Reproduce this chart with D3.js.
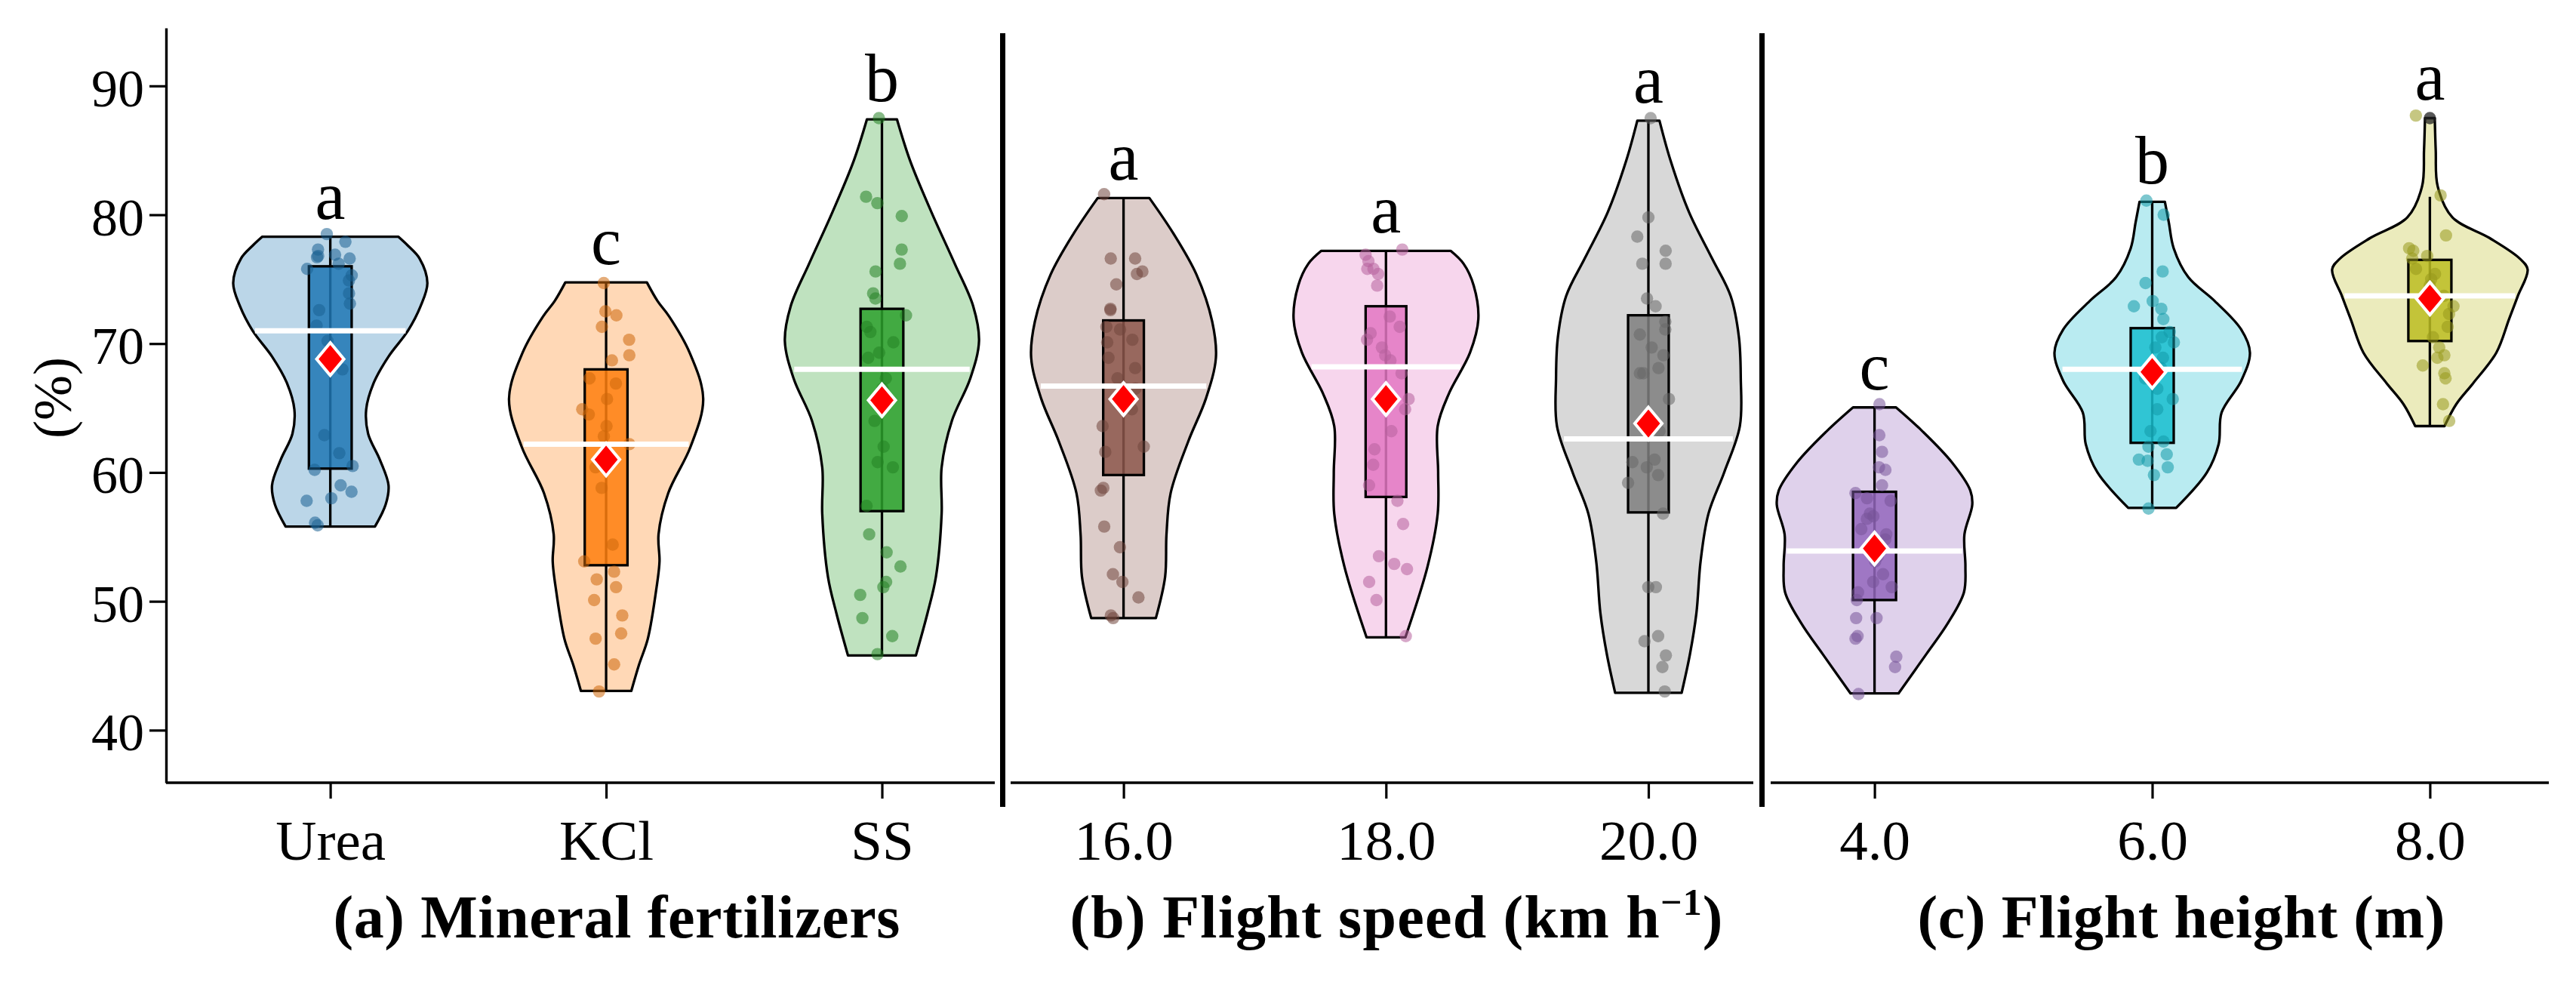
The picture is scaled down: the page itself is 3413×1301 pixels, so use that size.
<!DOCTYPE html>
<html><head><meta charset="utf-8">
<script src="https://cdn.jsdelivr.net/npm/d3@7"></script>
<style>body{margin:0;background:#fff}svg{display:block}</style>
</head><body><svg id="chart" width="3413" height="1301"></svg>
<script>
// ---------------- data ----------------
const categoriesA = ["Urea", "KCl", "SS"];
const categoriesB = ["16.0", "18.0", "20.0"];
const categoriesC = ["4.0", "6.0", "8.0"];
const yTicks = [40, 50, 60, 70, 80, 90];
const yLabel = "(%)";
// title pieces: odd index = superscript
const titleA = ["(a) Mineral fertilizers"];
const titleB = ["(b) Flight speed (km h", "\u22121", ")"];
const titleC = ["(c) Flight height (m)"];

const letters = ["a", "c", "b", "a", "a", "a", "c", "b", "a"];
const colors = ["#1f77b4", "#ff7f0e", "#2ca02c", "#8c564b", "#e377c2", "#7f7f7f", "#9467bd", "#17becf", "#bcbd22"];

const means   = [68.8, 61.0, 65.6, 65.7, 65.7, 63.8, 54.1, 67.8, 73.5];
const medians = [71.0, 62.2, 68.0, 66.7, 68.2, 62.6, 53.9, 68.0, 73.7];
const q1      = [60.3, 52.8, 57.0, 59.8, 58.1, 56.9, 50.1, 62.3, 70.2];
const q3      = [76.0, 68.0, 72.7, 71.8, 72.9, 72.2, 58.5, 71.2, 76.5];
const whiskerLow  = [55.8, 43.05, 45.8, 48.7, 47.2, 42.9, 42.85, 57.25, 63.6];
const whiskerHigh = [78.3, 74.75, 87.4, 81.3, 77.2, 87.3, 65.05, 81.0, 81.4];
const outliers = [[], [], [], [], [], [], [], [], [87.5]];

// violin density profiles: [value, relative density]
const densUrea = [[78.3,0.70],[77.6,0.80],[76.6,0.92],[74.7,1.0],[72.9,0.93],[71.0,0.80],[69.0,0.60],[67.0,0.45],[64.9,0.37],[63.0,0.39],[61.0,0.51],[59.0,0.60],[57.5,0.57],[55.8,0.46]];
const densKCl  = [[74.75,0.42],[73.3,0.53],[72.1,0.65],[69.3,0.86],[65.7,1.0],[62.0,0.87],[58.4,0.64],[55.2,0.54],[53.1,0.55],[51.1,0.52],[47.1,0.43],[45.1,0.34],[43.05,0.26]];
const densSS   = [[87.4,0.155],[84.2,0.29],[80.2,0.51],[76.2,0.75],[72.9,0.94],[70.2,1.0],[67.3,0.91],[64.0,0.72],[60.4,0.615],[56.8,0.615],[51.9,0.556],[49.1,0.47],[45.8,0.35]];
const dens16   = [[81.3,0.28],[78.6,0.535],[75.35,0.79],[71.7,0.96],[68.9,1.0],[65.7,0.89],[62.4,0.70],[58.4,0.51],[55.2,0.465],[51.9,0.45],[48.7,0.35]];
const dens18   = [[77.2,0.70],[76.2,0.84],[74.5,0.95],[71.9,1.0],[69.3,0.91],[66.1,0.68],[63.6,0.56],[60.0,0.565],[56.8,0.56],[52.7,0.45],[47.2,0.21]];
const dens20   = [[87.3,0.12],[84.2,0.24],[80.2,0.44],[76.6,0.69],[73.7,0.89],[70.5,0.98],[67.3,1.0],[63.6,0.99],[60.0,0.82],[56.8,0.65],[53.1,0.565],[49.1,0.52],[45.9,0.45],[42.9,0.36]];
const dens4    = [[65.05,0.22],[63.2,0.49],[60.8,0.79],[58.6,0.98],[57.5,1.0],[55.2,0.92],[52.7,0.93],[50.7,0.915],[48.3,0.75],[45.9,0.53],[42.85,0.245]];
const dens6    = [[81.0,0.13],[79.4,0.17],[77.4,0.22],[75.15,0.37],[73.3,0.64],[71.1,0.91],[69.3,1.0],[67.1,0.91],[64.65,0.71],[62.2,0.68],[60.0,0.56],[57.25,0.245]];
const dens8    = [[87.5,0.05],[85.0,0.06],[82.2,0.08],[79.8,0.23],[78.2,0.61],[76.6,0.92],[75.75,1.0],[73.7,0.90],[71.9,0.81],[69.3,0.68],[66.9,0.44],[65.3,0.27],[63.6,0.15]];

// individual observations
const ptsUrea = [78.5,77.9,77.3,76.9,76.8,76.7,76.6,76.2,75.8,75.3,74.9,73.9,73.1,72.6,71.4,70.2,69.2,68.0,62.9,61.5,60.5,60.2,59.0,58.5,58.0,57.8,56.1,55.9];
const ptsKCl  = [74.7,72.5,72.2,71.3,70.3,69.1,68.7,67.3,66.9,65.7,64.9,64.5,63.6,62.8,62.2,60.4,58.8,54.4,53.1,52.3,51.7,51.1,50.1,48.9,47.5,47.1,45.1,43.0];
const ptsSS   = [87.5,81.4,80.9,79.9,77.3,76.2,75.6,73.9,73.5,72.2,71.3,70.9,70.1,69.3,68.9,67.3,66.5,64.0,62.0,60.8,60.4,57.4,55.2,53.8,52.7,51.5,51.1,50.5,48.7,47.3,45.9];
const pts16   = [81.6,76.6,76.6,75.6,75.4,74.6,72.7,72.6,71.3,71.1,70.3,70.1,68.9,68.1,67.3,66.5,64.9,63.6,62.0,61.6,58.8,58.6,55.8,54.2,52.1,51.5,50.3,48.9,48.7];
const pts18   = [77.3,76.9,76.4,75.8,75.8,75.4,74.5,72.1,71.3,70.8,70.3,69.7,69.1,68.7,67.7,65.7,64.9,63.2,61.8,60.6,59.0,57.8,56.0,53.5,52.9,52.5,51.5,50.1,47.3];
const pts20   = [87.5,79.8,78.3,77.2,76.2,76.2,73.5,72.9,71.7,71.1,70.7,69.7,69.1,68.1,67.7,67.7,65.7,63.2,61.0,60.8,60.4,59.8,59.2,56.8,51.1,51.1,47.3,46.9,45.8,44.9,43.0];
const pts4    = [65.3,62.9,61.6,60.4,60.2,59.0,58.4,58.0,57.8,56.8,56.6,56.4,55.6,55.2,54.8,53.5,53.1,52.1,51.5,51.1,50.7,50.1,48.7,48.7,47.3,47.1,45.7,44.9,42.8];
const pts6    = [81.1,80.0,75.6,74.7,73.3,72.9,72.7,71.9,70.9,70.5,70.1,69.7,68.9,68.1,67.3,66.5,65.7,64.9,63.2,62.4,62.0,61.4,61.0,60.9,60.4,59.8,57.2];
const pts8    = [87.7,81.5,78.4,77.4,77.2,76.8,76.6,75.8,75.4,75.0,74.5,73.7,72.9,72.3,71.3,70.5,69.7,69.1,68.9,68.3,67.7,67.3,65.3,64.0];

const densities = [densUrea, densKCl, densSS, dens16, dens18, dens20, dens4, dens6, dens8];
const points = [ptsUrea, ptsKCl, ptsSS, pts16, pts18, pts20, pts4, pts6, pts8];

// ---------------- layout ----------------
const FONT = "'Liberation Serif', 'Times New Roman', serif";
const svg = d3.select("#chart");
const y = d3.scaleLinear().domain([35.92, 94.5]).range([1037, 37]);

const panels = [
  {cats: categoriesA, axis: [220, 1318], range: [437.6, 1168.5], title: titleA, titleX: 817, titleLen: 751},
  {cats: categoriesB, axis: [1339, 2323], range: [1488.6, 2184], title: titleB, titleX: 1850, titleLen: 865},
  {cats: categoriesC, axis: [2346, 3377], range: [2483.6, 3219.4], title: titleC, titleX: 2890, titleLen: 699}
];

const rng = d3.randomLcg(0.4217);
const jitter = d3.randomUniform.source(rng)(-1, 1);

// tall diamond marker (mean)
const symbolTallDiamond = {
  draw(ctx, size) {
    const w = Math.sqrt(size / 2.4), h = w * 1.2;
    ctx.moveTo(0, -h); ctx.lineTo(w, 0); ctx.lineTo(0, h); ctx.lineTo(-w, 0); ctx.closePath();
  }
};

function widthAt(dens, v) {
  for (let i = 0; i < dens.length - 1; i++) {
    const a = dens[i], b = dens[i + 1];
    if (v <= a[0] && v >= b[0]) {
      const t = (a[0] - v) / (a[0] - b[0]);
      return a[1] + t * (b[1] - a[1]);
    }
  }
  return dens[dens.length - 1][1];
}

panels.forEach((p, pi) => {
  const x = d3.scalePoint().domain(p.cats).range(p.range);
  const step = x.step();
  const hw = 0.352 * step;
  const bw = 0.155 * step;
  const g = svg.append("g");

  p.cats.forEach((cat, j) => {
    const k = pi * 3 + j;
    const cx = x(cat);
    const col = colors[k];
    const dens = densities[k];

    const area = d3.area()
      .curve(d3.curveCatmullRom.alpha(0.5))
      .y(d => y(d[0]))
      .x0(d => cx - d[1] * hw)
      .x1(d => cx + d[1] * hw);
    g.append("path").attr("d", area(dens))
      .attr("fill", col).attr("fill-opacity", 0.3)
      .attr("stroke", "#000").attr("stroke-width", 3.3).attr("stroke-linejoin", "round");

    g.append("line")
      .attr("x1", cx).attr("x2", cx)
      .attr("y1", y(whiskerLow[k])).attr("y2", y(whiskerHigh[k]))
      .attr("stroke", "#000").attr("stroke-width", 3.3);

    g.append("rect")
      .attr("x", cx - bw / 2).attr("width", bw)
      .attr("y", y(q3[k])).attr("height", y(q1[k]) - y(q3[k]))
      .attr("fill", col).attr("fill-opacity", 0.85)
      .attr("stroke", "#000").attr("stroke-width", 3.3);

    g.selectAll(null).data(points[k]).enter().append("circle")
      .attr("cx", () => cx + jitter() * 0.088 * step)
      .attr("cy", d => y(d))
      .attr("r", 8.2)
      .attr("fill", d3.color(col).darker(0.6)).attr("fill-opacity", 0.55);

    g.selectAll(null).data(outliers[k]).enter().append("circle")
      .attr("cx", cx).attr("cy", d => y(d)).attr("r", 8.2)
      .attr("fill", "#222").attr("fill-opacity", 0.75);

    const mw = widthAt(dens, medians[k]) * hw * 0.97;
    g.append("line")
      .attr("x1", cx - mw).attr("x2", cx + mw)
      .attr("y1", y(medians[k])).attr("y2", y(medians[k]))
      .attr("stroke", "#fff").attr("stroke-width", 7);

    g.append("path")
      .attr("d", d3.symbol(symbolTallDiamond, 780)())
      .attr("transform", `translate(${cx},${y(means[k])})`)
      .attr("fill", "#ff0000").attr("stroke", "#fff").attr("stroke-width", 4)
      .attr("stroke-linejoin", "miter");

    g.append("text")
      .attr("x", cx).attr("y", y(dens[0][0]) - 24)
      .attr("text-anchor", "middle")
      .attr("font-family", FONT).attr("font-size", 90)
      .text(letters[k]);
  });

  // x axis
  const xa = g.append("g").attr("transform", `translate(0,${y.range()[0]})`)
    .call(d3.axisBottom(x).tickSize(21).tickPadding(28).tickSizeOuter(0));
  xa.select(".domain").remove();
  xa.selectAll(".tick line").attr("stroke", "#000").attr("stroke-width", 3.2);
  xa.selectAll(".tick text").attr("font-family", FONT).attr("font-size", 75).attr("fill", "#000");
  g.append("line")
    .attr("x1", p.axis[0]).attr("x2", p.axis[1])
    .attr("y1", y.range()[0]).attr("y2", y.range()[0])
    .attr("stroke", "#000").attr("stroke-width", 3.4);

  // title
  const t = g.append("text")
    .attr("x", p.titleX).attr("y", 1242)
    .attr("text-anchor", "middle")
    .attr("font-family", FONT).attr("font-weight", "bold").attr("font-size", 80)
    .attr("textLength", p.titleLen).attr("lengthAdjust", "spacing");
  p.title.forEach((s, i) => {
    const ts = t.append("tspan").text(s);
    if (i % 2 === 1) ts.attr("font-size", 50).attr("dy", -30);
    else if (i > 0) ts.attr("dy", 30);
  });
});

// y axis
const ya = svg.append("g").attr("transform", "translate(220,0)")
  .call(d3.axisLeft(y).tickValues(yTicks).tickSize(22).tickPadding(7).tickSizeOuter(0));
ya.select(".domain").attr("stroke", "#000").attr("stroke-width", 3.4);
ya.selectAll(".tick line").attr("stroke", "#000").attr("stroke-width", 3.2);
ya.selectAll(".tick text").attr("font-family", FONT).attr("font-size", 70).attr("fill", "#000").attr("dy", "0.38em");

svg.append("text")
  .attr("transform", "translate(70,527) rotate(-90)")
  .attr("text-anchor", "middle").attr("dominant-baseline", "central")
  .attr("font-family", FONT).attr("font-size", 72)
  .text(yLabel);

// panel separators
[1328.5, 2334.5].forEach(sx => {
  svg.append("line")
    .attr("x1", sx).attr("x2", sx).attr("y1", 44).attr("y2", 1069)
    .attr("stroke", "#000").attr("stroke-width", 7);
});
</script>
</body></html>
